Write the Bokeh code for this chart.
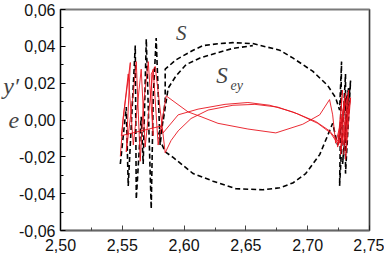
from bokeh.plotting import figure
from bokeh.models import FixedTicker, Label, Span, Range1d
from bokeh.embed import file_html
from bokeh.resources import INLINE

# ---- axis ticks ----
x_ticks = [2.50, 2.55, 2.60, 2.65, 2.70, 2.75]
x_tick_labels = ["2,50", "2,55", "2,60", "2,65", "2,70", "2,75"]
x_minor = [2.525, 2.575, 2.625, 2.675, 2.725]
y_ticks = [-0.06, -0.04, -0.02, 0.0, 0.02, 0.04, 0.06]
y_tick_labels = ["-0,06", "-0,04", "-0,02", "0,00", "0,02", "0,04", "0,06"]
y_minor = [-0.05, -0.03, -0.01, 0.01, 0.03, 0.05]

# ---- S (black dashed) trajectory ----
s_x = [2.5484, 2.5532, 2.5548, 2.5605, 2.5613, 2.5653, 2.5669, 2.5694, 2.5734,
       2.5750, 2.5774, 2.5806, 2.5847, 2.5847, 2.5935, 2.6073, 2.6153, 2.6290,
       2.6395, 2.6556, 2.6774, 2.6879, 2.7040, 2.7161, 2.7226, 2.7258, 2.7274,
       2.7258, 2.7306, 2.7306, 2.7347, 2.7282, 2.7331, 2.7242, 2.7202, 2.7161,
       2.7097, 2.6984, 2.6879, 2.6774, 2.6637, 2.6419, 2.6234, 2.6073, 2.5911,
       2.5847, 2.5790, 2.5830, 2.5871, 2.5935, 2.6016, 2.6129, 2.6258, 2.6395,
       2.6556]
s_y = [-0.0239, 0.0070, -0.0358, 0.0404, -0.0430, 0.0018, -0.0239, 0.0440, -0.0482,
       0.0121, 0.0445, -0.0136, 0.0106, 0.0276, 0.0327, 0.0379, 0.0404, 0.0415,
       0.0420, 0.0415, 0.0379, 0.0337, 0.0265, 0.0188, 0.0121, 0.0054, 0.0317,
       -0.0358, 0.0250, -0.0291, 0.0214, -0.0239, 0.0173, -0.0136, -0.0018, -0.0085,
       -0.0188, -0.0291, -0.0342, -0.0368, -0.0379, -0.0373, -0.0332, -0.0291, -0.0203,
       -0.0173, -0.0085, -0.0008, 0.0173, 0.0240, 0.0301, 0.0337, 0.0363, 0.0389,
       0.0404]

# ---- S_ey (red) trajectory ----
sey_x = [2.5484, 2.5508, 2.5565, 2.5532, 2.5589, 2.5613, 2.5645, 2.5669, 2.5710,
         2.5750, 2.5734, 2.5766, 2.5847,
         2.5895, 2.5952, 2.6056, 2.6194, 2.6395, 2.6573, 2.6758, 2.6919, 2.7081,
         2.7185, 2.7250,
         2.7282, 2.7242, 2.7306, 2.7266, 2.7331, 2.7306, 2.7347, 2.7290, 2.7323,
         2.7226,
         2.7202, 2.7177, 2.7097, 2.6960, 2.6742, 2.6516, 2.6274, 2.6137, 2.6032,
         2.5855,
         2.5790, 2.5750, 2.5685, 2.5653, 2.5589, 2.5548, 2.5492, 2.5814,
         2.5830, 2.5952, 2.6113, 2.6331, 2.6516, 2.6694, 2.6879, 2.7065, 2.7177,
         2.7258, 2.7298, 2.7266, 2.7339, 2.7290]
sey_y = [-0.0198, 0.0018, 0.0312, -0.0173, 0.0147, 0.0317, -0.0224, 0.0070, 0.0317,
         -0.0085, 0.0250, 0.0291, -0.0178,
         -0.0111, -0.0059, 0.0008, 0.0054, 0.0080, 0.0085, 0.0070, 0.0033, -0.0018,
         -0.0070, -0.0136,
         0.0162, -0.0147, 0.0147, -0.0188, 0.0162, -0.0214, 0.0121, -0.0136, 0.0131,
         -0.0126,
         0.0028, 0.0111, 0.0028, -0.0023, -0.0070, -0.0049, -0.0018, 0.0018, 0.0044,
         0.0131,
         -0.0136, 0.0276, -0.0147, 0.0276, -0.0136, 0.0250, -0.0085, -0.0033,
         -0.0070, 0.0028, 0.0059, 0.0085, 0.0095, 0.0080, 0.0044, -0.0008, -0.0059,
         -0.0126, 0.0121, -0.0162, 0.0095, -0.0188]

p = figure(width=384, height=253,
           x_range=Range1d(2.50, 2.75), y_range=Range1d(-0.06, 0.06),
           output_backend="svg", toolbar_location=None,
           min_border_left=59, min_border_right=15,
           min_border_top=9, min_border_bottom=0)

p.background_fill_color = "white"
p.border_fill_color = "white"
p.grid.visible = False
p.outline_line_color = "#7a7a7a"
p.outline_line_width = 2

# axes
p.xaxis.ticker = FixedTicker(ticks=x_ticks, minor_ticks=x_minor)
p.yaxis.ticker = FixedTicker(ticks=y_ticks, minor_ticks=y_minor)
p.xaxis.major_label_overrides = dict(zip(x_ticks, x_tick_labels))
p.yaxis.major_label_overrides = dict(zip(y_ticks, y_tick_labels))

for ax in (p.xaxis[0], p.yaxis[0]):
    ax.major_tick_in = 5
    ax.major_tick_out = 0
    ax.minor_tick_in = 3
    ax.minor_tick_out = 0
    ax.major_label_text_font = "Liberation Sans"
    ax.major_label_text_font_size = "16px"
    ax.major_label_text_color = "#111111"
p.yaxis.major_label_text_line_height = 0.8
p.xaxis.major_label_text_line_height = 0.5
p.yaxis.major_label_standoff = 5
p.xaxis.major_label_standoff = 8

# y-axis title (y'_e drawn on two lines as in the original)
p.yaxis.axis_label = "y\u2032\ne\n\u00a0"
p.yaxis.axis_label_orientation = "horizontal"
p.yaxis.axis_label_text_font = "Liberation Serif"
p.yaxis.axis_label_text_font_style = "italic"
p.yaxis.axis_label_text_font_size = "24px"
p.yaxis.axis_label_text_line_height = 1.3
p.yaxis.axis_label_text_align = "left"
p.yaxis.axis_label_standoff = -3

p.yaxis.axis_line_color = "black"
p.yaxis.major_tick_line_color = "black"
p.yaxis.minor_tick_line_color = "black"
p.xaxis.axis_line_color = "#666666"
p.xaxis.axis_line_width = 1.5
p.xaxis.major_tick_line_color = "#444444"
p.xaxis.minor_tick_line_color = "#444444"

p.add_layout(Span(location=2.75, dimension="height", line_color="black", line_width=1))

# curves
p.line(s_x, s_y, line_color="black", line_width=1.6, line_dash="5 3")
p.line(sey_x, sey_y, line_color="#e8141e", line_width=0.9)

# annotations
serif = "Liberation Serif"
p.add_layout(Label(x=2.5976, y=0.0471, text="S", text_font=serif, text_font_style="italic",
                   text_font_size="21px", text_align="center", text_baseline="middle"))
p.add_layout(Label(x=2.6306, y=0.0240, text="S", text_font=serif, text_font_style="italic",
                   text_font_size="23px", text_align="center", text_baseline="middle"))
p.add_layout(Label(x=2.6425, y=0.0190, text="ey", text_font=serif, text_font_style="italic",
                   text_font_size="14px", text_align="center", text_baseline="middle"))

open("out.html", "w").write(file_html(p, INLINE))
